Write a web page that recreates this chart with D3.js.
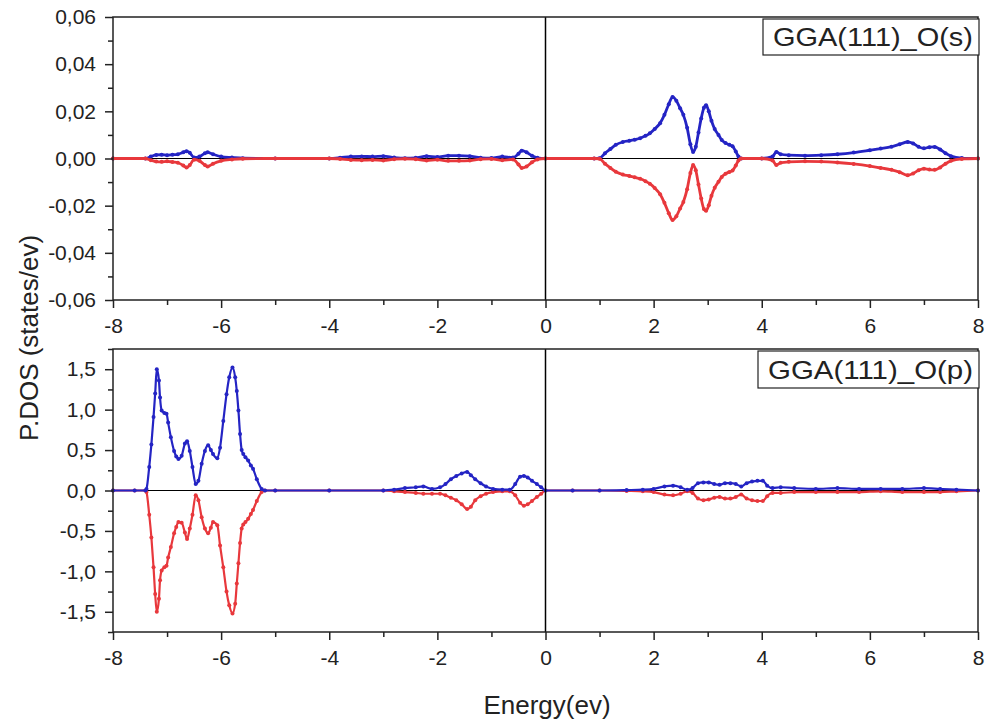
<!DOCTYPE html>
<html>
<head>
<meta charset="utf-8">
<script src="https://cdn.jsdelivr.net/npm/d3@7"></script>
<style>
  body { margin: 0; background: #fff; }
  svg { display: block; font-family: "Liberation Sans", Arial, sans-serif; }
</style>
</head>
<body>
<svg id="chart" width="991" height="728"></svg>
<script>
// --- DATA ---
// O(s) partial DOS: [energy, spin up, spin down]
const oS = [
  [-8, 0, 0], [-7.4, 0, 0], [-7.3, 0.0008, -0.0007], [-7.2, 0.0015, -0.0013],
  [-7.1, 0.0016, -0.0014], [-7.0, 0.0014, -0.0012], [-6.9, 0.0016, -0.0015],
  [-6.8, 0.0018, -0.0018], [-6.7, 0.0026, -0.0030], [-6.64, 0.0031, -0.0038],
  [-6.58, 0.0024, -0.0028], [-6.5, 0.0004, -0.0005], [-6.4, 0.0008, -0.0010],
  [-6.3, 0.0022, -0.0028], [-6.25, 0.0026, -0.0034], [-6.15, 0.0018, -0.0022],
  [-6.0, 0.0008, -0.0010], [-5.8, 0.0004, -0.0004], [-5.6, 0.0001, -0.0001],
  [-5.0, 0, 0], [-4.0, 0, 0], [-3.8, 0.0003, -0.0002], [-3.6, 0.0008, -0.0006],
  [-3.4, 0.0009, -0.0007], [-3.2, 0.0008, -0.0006], [-3.0, 0.0010, -0.0008],
  [-2.8, 0.0004, -0.0003], [-2.6, 0.0001, -0.0001], [-2.4, 0.0003, -0.0003],
  [-2.2, 0.0010, -0.0009], [-2.0, 0.0006, -0.0005], [-1.8, 0.0012, -0.0010],
  [-1.6, 0.0012, -0.0010], [-1.4, 0.0010, -0.0009], [-1.2, 0.0003, -0.0003],
  [-1.0, 0.0002, -0.0002], [-0.8, 0.0008, -0.0007], [-0.6, 0.0004, -0.0004],
  [-0.5, 0.0020, -0.0025], [-0.44, 0.0033, -0.0040], [-0.35, 0.0026, -0.0034],
  [-0.25, 0.0012, -0.0016], [-0.15, 0.0003, -0.0004], [0, 0, 0], [0.9, 0, 0],
  [1.0, 0.0001, -0.0001], [1.1, 0.0022, -0.0022], [1.2, 0.0040, -0.0040],
  [1.3, 0.0058, -0.0056], [1.43, 0.0070, -0.0068], [1.55, 0.0075, -0.0074],
  [1.65, 0.0080, -0.0080], [1.75, 0.0086, -0.0086], [1.85, 0.0096, -0.0096],
  [1.93, 0.0107, -0.0107], [2.02, 0.0125, -0.0125], [2.12, 0.0150, -0.0152],
  [2.2, 0.0185, -0.0188], [2.28, 0.0230, -0.0232], [2.35, 0.0261, -0.0261],
  [2.42, 0.0245, -0.0245], [2.49, 0.0213, -0.0212], [2.55, 0.0185, -0.0184],
  [2.62, 0.0130, -0.0130], [2.68, 0.0060, -0.0062], [2.73, 0.0028, -0.0028],
  [2.78, 0.0050, -0.0050], [2.83, 0.0110, -0.0110], [2.88, 0.0170, -0.0170],
  [2.93, 0.0215, -0.0214], [2.97, 0.0226, -0.0222], [3.02, 0.0200, -0.0198],
  [3.07, 0.0160, -0.0158], [3.13, 0.0125, -0.0124], [3.2, 0.0100, -0.0099],
  [3.26, 0.0078, -0.0078], [3.33, 0.0066, -0.0065], [3.4, 0.0058, -0.0057],
  [3.46, 0.0052, -0.0051], [3.52, 0.0030, -0.0030], [3.57, 0.0008, -0.0008],
  [3.62, 0, 0], [4.0, 0, 0], [4.2, 0.0008, -0.0008], [4.27, 0.0028, -0.0028],
  [4.35, 0.0018, -0.0018], [4.5, 0.0014, -0.0014], [4.8, 0.0012, -0.0012],
  [5.1, 0.0014, -0.0013], [5.4, 0.0018, -0.0017], [5.7, 0.0025, -0.0023],
  [6.0, 0.0035, -0.0032], [6.2, 0.0042, -0.0040], [6.4, 0.0050, -0.0048],
  [6.55, 0.0060, -0.0058], [6.7, 0.0070, -0.0071], [6.8, 0.0064, -0.0064],
  [6.9, 0.0050, -0.0050], [7.0, 0.0043, -0.0043], [7.1, 0.0048, -0.0047],
  [7.2, 0.0049, -0.0048], [7.3, 0.0038, -0.0038], [7.4, 0.0022, -0.0022],
  [7.5, 0.0010, -0.0010], [7.7, 0.0002, -0.0002], [8, 0, 0]
];

// O(p) partial DOS: [energy, spin up, spin down]
const oP = [
  [-8, 0, 0], [-7.6, 0, 0], [-7.4, 0, 0], [-7.38, 0.02, -0.02], [-7.33, 0.29, -0.30],
  [-7.29, 0.57, -0.58], [-7.25, 0.91, -0.95], [-7.22, 1.20, -1.28], [-7.19, 1.50, -1.50],
  [-7.15, 1.36, -1.34], [-7.13, 1.15, -1.11], [-7.10, 0.99, -0.99], [-7.05, 0.96, -0.95],
  [-7.01, 0.95, -0.93], [-6.98, 0.84, -0.83], [-6.93, 0.66, -0.70], [-6.87, 0.49, -0.53],
  [-6.83, 0.42, -0.45], [-6.79, 0.39, -0.39], [-6.73, 0.43, -0.40], [-6.67, 0.58, -0.52],
  [-6.63, 0.61, -0.60], [-6.58, 0.49, -0.47], [-6.53, 0.29, -0.30], [-6.47, 0.08, -0.06],
  [-6.42, 0.12, -0.12], [-6.36, 0.33, -0.33], [-6.30, 0.49, -0.47], [-6.24, 0.56, -0.53],
  [-6.19, 0.50, -0.46], [-6.15, 0.45, -0.39], [-6.07, 0.40, -0.43], [-6.02, 0.53, -0.68],
  [-5.96, 0.86, -0.95], [-5.90, 1.19, -1.25], [-5.85, 1.40, -1.42], [-5.79, 1.52, -1.52],
  [-5.74, 1.40, -1.40], [-5.71, 1.23, -1.15], [-5.68, 0.99, -0.90], [-5.65, 0.70, -0.65],
  [-5.62, 0.50, -0.47], [-5.59, 0.45, -0.42], [-5.55, 0.41, -0.39], [-5.50, 0.37, -0.35],
  [-5.45, 0.31, -0.29], [-5.41, 0.27, -0.24], [-5.34, 0.14, -0.13], [-5.25, 0.02, -0.02],
  [-5.19, 0, 0], [-5.0, 0, 0], [-4.0, 0, 0], [-3.0, 0, 0], [-2.8, 0.01, -0.01],
  [-2.6, 0.03, -0.02], [-2.4, 0.04, -0.03], [-2.26, 0.05, -0.04], [-2.1, 0.02, -0.04],
  [-1.95, 0.04, -0.04], [-1.85, 0.08, -0.06], [-1.75, 0.14, -0.09], [-1.65, 0.18, -0.12],
  [-1.55, 0.21, -0.17], [-1.45, 0.23, -0.23], [-1.38, 0.19, -0.20], [-1.30, 0.14, -0.12],
  [-1.2, 0.09, -0.07], [-1.1, 0.05, -0.04], [-0.97, 0.02, -0.02], [-0.8, 0.01, -0.01],
  [-0.66, 0.01, -0.01], [-0.56, 0.08, -0.06], [-0.47, 0.17, -0.15], [-0.40, 0.18, -0.19],
  [-0.33, 0.16, -0.17], [-0.25, 0.12, -0.13], [-0.16, 0.08, -0.08], [-0.08, 0.04, -0.04],
  [0, 0, 0], [0.5, 0, 0], [1.0, 0, 0], [1.5, 0.005, -0.005], [1.8, 0.01, -0.01],
  [2.0, 0.02, -0.02], [2.2, 0.05, -0.05], [2.36, 0.06, -0.06], [2.5, 0.04, -0.04],
  [2.62, 0.01, -0.01], [2.72, 0.03, -0.03], [2.82, 0.09, -0.10], [2.92, 0.10, -0.12],
  [3.02, 0.10, -0.11], [3.12, 0.08, -0.09], [3.22, 0.07, -0.08], [3.32, 0.09, -0.10],
  [3.42, 0.09, -0.10], [3.52, 0.08, -0.08], [3.62, 0.05, -0.05], [3.72, 0.09, -0.10],
  [3.82, 0.11, -0.12], [3.92, 0.12, -0.13], [4.02, 0.12, -0.13], [4.10, 0.06, -0.07],
  [4.2, 0.03, -0.03], [4.35, 0.04, -0.03], [4.6, 0.03, -0.02], [5.0, 0.02, -0.02],
  [5.4, 0.03, -0.02], [5.8, 0.02, -0.02], [6.2, 0.02, -0.01], [6.6, 0.02, -0.02],
  [7.0, 0.03, -0.02], [7.3, 0.02, -0.02], [7.6, 0.01, -0.01], [8, 0, 0]
];

// ticks
const xTicks = [-8, -6, -4, -2, 0, 2, 4, 6, 8];
const xMinor = [-7, -5, -3, -1, 1, 3, 5, 7];
const yTicksS = [-0.06, -0.04, -0.02, 0, 0.02, 0.04, 0.06];
const yMinorS = [-0.05, -0.03, -0.01, 0.01, 0.03, 0.05];
const yTicksP = [-1.5, -1.0, -0.5, 0, 0.5, 1.0, 1.5];
const yMinorP = [-1.75, -1.25, -0.75, -0.25, 0.25, 0.75, 1.25, 1.75];

// --- CONFIGURATION ---
const X_LEFT = 113, X_RIGHT = 978;
const BLUE = "#2424c4", RED = "#e8383c";
const locale = d3.formatLocale({ decimal: ",", thousands: ".", grouping: [3], currency: ["", ""], minus: "-" });

const panels = [
  { data: oS, top: 17, bottom: 300, domain: [-0.06, 0.06], ticks: yTicksS, minor: yMinorS,
    fmt: ".2f", legend: "GGA(111)_O(s)", box: [763, 19, 216, 36], order: ["up", "dn"], lw: 2.8 },
  { data: oP, top: 349, bottom: 632, domain: [-1.75, 1.75], ticks: yTicksP, minor: yMinorP,
    fmt: ".1f", legend: "GGA(111)_O(p)", box: [758, 351, 221, 37], order: ["dn", "up"], lw: 2.2 }
];

const svg = d3.select("#chart");
svg.append("rect").attr("width", 991).attr("height", 728).attr("fill", "#fff");

const x = d3.scaleLinear().domain([-8, 8]).range([X_LEFT, X_RIGHT]);

panels.forEach(p => {
  const y = d3.scaleLinear().domain(p.domain).range([p.bottom, p.top]);
  const g = svg.append("g");

  // zero line (under the curves)
  g.append("line")
    .attr("x1", X_LEFT).attr("x2", X_RIGHT)
    .attr("y1", y(0)).attr("y2", y(0))
    .attr("stroke", "#000").attr("stroke-width", 1.2);

  const series = {
    up: { col: BLUE, idx: 1 },
    dn: { col: RED, idx: 2 }
  };

  p.order.forEach(k => {
    const s = series[k];
    const line = d3.line()
      .x(d => x(d[0]))
      .y(d => y(d[s.idx]))
      .curve(d3.curveMonotoneX);
    g.append("path")
      .datum(p.data)
      .attr("fill", "none")
      .attr("stroke", s.col)
      .attr("stroke-width", p.lw)
      .attr("d", line);
    g.selectAll(null).data(p.data).enter().append("circle")
      .attr("cx", d => x(d[0]))
      .attr("cy", d => y(d[s.idx]))
      .attr("r", 2)
      .attr("fill", s.col);
  });

  // vertical line at E = 0
  g.append("line")
    .attr("x1", x(0)).attr("x2", x(0))
    .attr("y1", p.top).attr("y2", p.bottom)
    .attr("stroke", "#000").attr("stroke-width", 1.5);

  // frame
  g.append("rect")
    .attr("x", X_LEFT).attr("y", p.top)
    .attr("width", X_RIGHT - X_LEFT).attr("height", p.bottom - p.top)
    .attr("fill", "none").attr("stroke", "#222").attr("stroke-width", 1.5);

  // axes
  const fmt = locale.format(p.fmt);
  const yAxis = g.append("g").attr("transform", `translate(${X_LEFT},0)`)
    .call(d3.axisLeft(y).tickValues(p.ticks).tickSize(8).tickPadding(9).tickFormat(fmt));
  const yMin = g.append("g").attr("transform", `translate(${X_LEFT},0)`)
    .call(d3.axisLeft(y).tickValues(p.minor).tickSize(5).tickFormat(""));
  const xAxis = g.append("g").attr("transform", `translate(0,${p.bottom})`)
    .call(d3.axisBottom(x).tickValues(xTicks).tickSize(8).tickPadding(10).tickFormat(locale.format("d")));
  const xMin = g.append("g").attr("transform", `translate(0,${p.bottom})`)
    .call(d3.axisBottom(x).tickValues(xMinor).tickSize(5).tickFormat(""));

  [yAxis, yMin, xAxis, xMin].forEach(a => {
    a.select(".domain").remove();
    a.selectAll("line").attr("stroke", "#222").attr("stroke-width", 1.5);
    a.selectAll("text").attr("font-size", 21).attr("fill", "#222")
      .attr("font-family", "'Liberation Sans', Arial, sans-serif");
  });

  // legend box
  const [bx, by, bw, bh] = p.box;
  g.append("rect")
    .attr("x", bx).attr("y", by).attr("width", bw).attr("height", bh)
    .attr("fill", "#fff").attr("stroke", "#222").attr("stroke-width", 1.2);
  g.append("text")
    .attr("x", bx + 10).attr("y", by + bh / 2)
    .attr("dominant-baseline", "central")
    .attr("font-size", 26).attr("fill", "#222")
    .attr("textLength", bw - 16).attr("lengthAdjust", "spacingAndGlyphs")
    .text(p.legend);
});

// axis titles
svg.append("text")
  .attr("transform", `translate(29,338) rotate(-90)`)
  .attr("text-anchor", "middle").attr("dominant-baseline", "central")
  .attr("font-size", 26).attr("fill", "#222")
  .text("P.DOS (states/ev)");

svg.append("text")
  .attr("x", 547).attr("y", 705)
  .attr("text-anchor", "middle").attr("dominant-baseline", "central")
  .attr("font-size", 26).attr("fill", "#222")
  .text("Energy(ev)");
</script>
</body>
</html>
